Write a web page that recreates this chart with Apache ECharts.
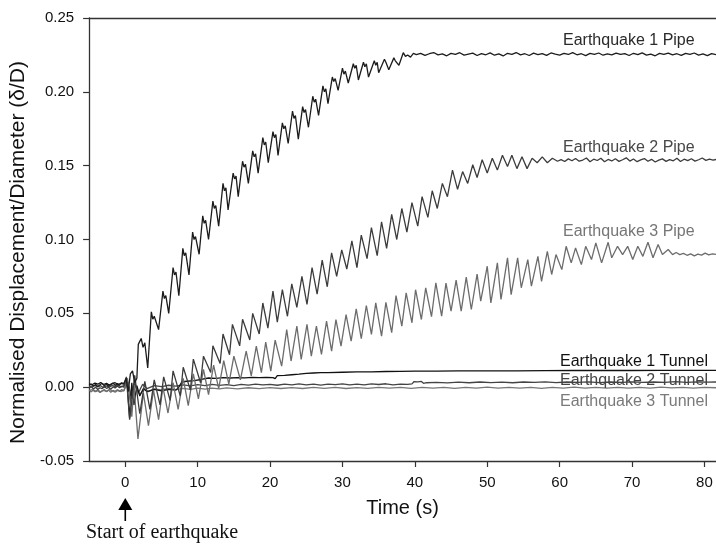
<!DOCTYPE html>
<html>
<head>
<meta charset="utf-8">
<title>Normalised displacement</title>
<script src="https://cdn.jsdelivr.net/npm/echarts@6.0.0/dist/echarts.min.js"></script>
<style>
  html, body { margin: 0; padding: 0; background: #fff; }
  #chart { width: 716px; height: 544px; }
</style>
</head>
<body>
<div id="chart"></div>
<script>
// values: [time (s), normalised displacement δ/D]
const timeTicks = [0, 10, 20, 30, 40, 50, 60, 70, 80];

const eq1Pipe = [
  [-5, 0.0012], [-4.7, 0.0022], [-4.4, 0.0008], [-4.1, 0.0018], [-3.8, 0.0004], [-3.5, 0.0016], [-3.2, 0.0026],
  [-2.9, 0.001], [-2.6, 0.002], [-2.3, 0.0006], [-2.0, 0.0018], [-1.7, 0.0028], [-1.4, 0.0012], [-1.1, 0.0024],
  [-0.8, 0.0014], [-0.5, 0.003], [-0.2, 0.0024], [0.1, 0.006], [0.4, -0.003], [0.7, 0.009], [1.0, 0.011],
  [1.3, 0.003], [1.6, 0.006], [1.8, 0.029], [2.0, 0.031], [2.2, 0.033], [2.45, 0.027], [2.7, 0.03], [3.1, 0.013],
  [3.6, 0.051], [3.8, 0.046], [4.0, 0.048], [4.6, 0.039], [5.2, 0.065], [5.4, 0.06], [5.6, 0.062], [6.0, 0.05],
  [6.6, 0.081], [6.8, 0.076], [7.0, 0.078], [7.4, 0.062], [7.95, 0.094], [8.15, 0.089], [8.35, 0.091], [8.8, 0.076],
  [9.3, 0.105], [9.5, 0.1], [9.7, 0.102], [10.2, 0.09], [10.7, 0.116], [10.9, 0.111], [11.1, 0.113], [11.5, 0.1],
  [12.1, 0.126], [12.3, 0.121], [12.5, 0.123], [12.9, 0.109], [13.5, 0.138], [13.7, 0.133], [13.9, 0.135], [14.2, 0.12],
  [14.9, 0.145], [15.1, 0.141], [15.3, 0.143], [15.6, 0.129], [16.2, 0.153], [16.4, 0.149], [16.6, 0.151], [17.0, 0.138],
  [17.6, 0.16], [17.8, 0.156], [18.0, 0.158], [18.35, 0.145], [19.0, 0.169], [19.2, 0.164], [19.4, 0.166], [19.75, 0.152],
  [20.4, 0.173], [20.6, 0.169], [20.8, 0.171], [21.1, 0.157], [21.7, 0.179], [21.9, 0.175], [22.1, 0.177], [22.5, 0.165],
  [23.1, 0.187], [23.3, 0.182], [23.5, 0.184], [23.9, 0.168], [24.5, 0.19], [24.7, 0.186], [24.9, 0.188], [25.3, 0.176],
  [25.9, 0.197], [26.1, 0.193], [26.3, 0.195], [26.7, 0.184], [27.3, 0.204], [27.5, 0.2], [27.7, 0.202], [28.0, 0.192],
  [28.6, 0.21], [28.8, 0.207], [29.0, 0.209], [29.4, 0.201], [30.0, 0.216], [30.2, 0.212], [30.4, 0.214], [30.8, 0.206],
  [31.5, 0.219], [31.7, 0.216], [31.9, 0.218], [32.2, 0.208], [32.9, 0.22], [33.1, 0.217], [33.3, 0.219], [33.6, 0.21],
  [34.4, 0.221], [34.6, 0.218], [34.8, 0.22], [35.0, 0.213], [35.8, 0.222], [36.0, 0.22], [36.2, 0.221], [36.4, 0.215],
  [37.1, 0.223], [37.3, 0.221], [37.5, 0.222], [37.8, 0.218], [38.4, 0.2265], [38.7, 0.224], [39.0, 0.225], [39.4, 0.2235],
  [39.8, 0.226], [40.2, 0.2252], [40.8, 0.2261], [41.4, 0.2247], [42.0, 0.2258], [42.6, 0.2266], [43.2, 0.225],
  [43.8, 0.2257], [44.4, 0.2244], [45.0, 0.226], [45.6, 0.2253], [46.2, 0.2265], [46.8, 0.2249], [47.4, 0.2256],
  [48.0, 0.2262], [48.6, 0.2246], [49.2, 0.2259], [49.8, 0.2251], [50.4, 0.2264], [51.0, 0.2248], [51.6, 0.2257],
  [52.2, 0.2243], [52.8, 0.2261], [53.4, 0.2254], [54.0, 0.2266], [54.6, 0.225], [55.2, 0.2258], [55.8, 0.2246],
  [56.4, 0.2262], [57.0, 0.2252], [57.6, 0.2259], [58.2, 0.2247], [58.8, 0.2263], [59.4, 0.2255], [60.0, 0.2249],
  [60.6, 0.2261], [61.2, 0.2253], [61.8, 0.2266], [62.4, 0.2251], [63.0, 0.2258], [63.6, 0.2245], [64.2, 0.226],
  [64.8, 0.2254], [65.4, 0.2263], [66.0, 0.2248], [66.6, 0.2257], [67.2, 0.225], [67.8, 0.2262], [68.4, 0.2253],
  [69.0, 0.2259], [69.6, 0.2246], [70.2, 0.2261], [70.8, 0.2252], [71.4, 0.2264], [72.0, 0.2249], [72.6, 0.2256],
  [73.2, 0.2244], [73.8, 0.226], [74.4, 0.2253], [75.0, 0.2262], [75.6, 0.225], [76.2, 0.2258], [76.8, 0.2247],
  [77.4, 0.2261], [78.0, 0.2254], [78.6, 0.2263], [79.2, 0.2249], [79.8, 0.2257], [80.4, 0.2245], [81.0, 0.2259], [81.6, 0.2252]
];

const eq2Pipe = [
  [-5, -0.0008], [-4.7, 0.0004], [-4.4, -0.0012], [-4.1, 0.0], [-3.8, -0.0016], [-3.5, -0.0004], [-3.2, -0.001],
  [-2.9, 0.0006], [-2.6, -0.0008], [-2.3, -0.0002], [-2.0, -0.0014], [-1.7, 0.0002], [-1.4, -0.0006], [-1.1, 0.0008],
  [-0.8, -0.0004], [-0.5, 0.0006], [-0.2, 0.0], [0.15, 0.007], [0.6, -0.022], [1.3, 0.008], [2.0, -0.018], [2.7, 0.004],
  [3.4, -0.015], [4.0, 0.005], [4.8, -0.012], [5.3, 0.007], [6.2, -0.009], [6.6, 0.011], [7.6, -0.006], [8.0, 0.0135],
  [9.0, -0.002], [9.4, 0.019], [10.4, 0.003], [10.8, 0.021], [11.8, 0.01], [12.1, 0.028], [13.1, 0.016], [13.5, 0.036],
  [14.4, 0.022], [14.8, 0.0425], [15.8, 0.028], [16.2, 0.046], [17.2, 0.032], [17.6, 0.05], [18.5, 0.036], [19.0, 0.057],
  [19.7, 0.04], [20.4, 0.065], [21.0, 0.044], [21.7, 0.066], [22.4, 0.048], [23.0, 0.07], [23.7, 0.054], [24.4, 0.075],
  [25.1, 0.056], [25.8, 0.081], [26.5, 0.063], [27.2, 0.086], [27.9, 0.068], [28.5, 0.091], [29.2, 0.075], [29.9, 0.093],
  [30.6, 0.08], [31.3, 0.099], [32.0, 0.081], [32.6, 0.103], [33.4, 0.087], [34.0, 0.108], [34.8, 0.089], [35.4, 0.112],
  [36.1, 0.094], [36.8, 0.117], [37.5, 0.1], [38.2, 0.121], [38.9, 0.105], [39.6, 0.125], [40.4, 0.109], [41.0, 0.129],
  [41.8, 0.115], [42.4, 0.133], [43.1, 0.121], [43.8, 0.138], [44.5, 0.129], [45.2, 0.147], [45.9, 0.134], [46.6, 0.146],
  [47.3, 0.138], [48.0, 0.1506], [48.6, 0.142], [49.3, 0.154], [50.0, 0.145], [50.7, 0.155], [51.4, 0.147], [52.1, 0.157],
  [52.8, 0.1495], [53.4, 0.157], [54.1, 0.148], [54.8, 0.156], [55.5, 0.148], [56.2, 0.155], [56.9, 0.152], [57.6, 0.156],
  [58.3, 0.152], [59.0, 0.155], [59.7, 0.153], [60.2, 0.1541], [60.7, 0.1528], [61.2, 0.1546], [61.7, 0.1533],
  [62.2, 0.1549], [62.7, 0.153], [63.2, 0.1538], [63.7, 0.1552], [64.2, 0.1527], [64.7, 0.1544], [65.2, 0.1535],
  [65.7, 0.155], [66.2, 0.1526], [66.7, 0.1542], [67.2, 0.1532], [67.7, 0.1547], [68.2, 0.1529], [68.7, 0.154],
  [69.2, 0.1553], [69.7, 0.1531], [70.2, 0.1545], [70.7, 0.1527], [71.2, 0.1539], [71.7, 0.1548], [72.2, 0.153],
  [72.7, 0.1543], [73.2, 0.1525], [73.7, 0.1537], [74.2, 0.1546], [74.7, 0.1529], [75.2, 0.1541], [75.7, 0.1533],
  [76.2, 0.155], [76.7, 0.1528], [77.2, 0.1544], [77.7, 0.1534], [78.2, 0.1547], [78.7, 0.1531], [79.2, 0.154],
  [79.7, 0.1552], [80.2, 0.1536], [80.7, 0.1545], [81.2, 0.1538], [81.6, 0.1542]
];

const eq3Pipe = [
  [-5, -0.002], [-4.7, -0.0032], [-4.4, -0.0018], [-4.1, -0.003], [-3.8, -0.0022], [-3.5, -0.0036], [-3.2, -0.0024],
  [-2.9, -0.0016], [-2.6, -0.003], [-2.3, -0.002], [-2.0, -0.0034], [-1.7, -0.0022], [-1.4, -0.0028], [-1.1, -0.0018],
  [-0.8, -0.003], [-0.5, -0.0016], [-0.2, -0.0026], [0.3, 0.006], [0.9, -0.02], [1.2, 0.001], [1.75, -0.035],
  [2.5, -0.004], [3.2, -0.026], [3.9, -0.002], [4.6, -0.022], [5.2, 0.0], [5.9, -0.0175], [6.6, 0.003], [7.3, -0.015],
  [8.0, 0.006], [8.7, -0.0125], [9.4, 0.009], [10.1, -0.008], [10.8, 0.012], [11.5, -0.005], [12.2, 0.015],
  [12.9, -0.001], [13.6, 0.018], [14.3, 0.002], [15.0, 0.021], [15.9, 0.005], [16.7, 0.0244], [17.4, 0.0076],
  [18.1, 0.0278], [18.8, 0.0098], [19.4, 0.0305], [20.1, 0.0109], [20.7, 0.0318], [21.6, 0.0143], [22.3, 0.039],
  [22.9, 0.0177], [23.7, 0.0413], [24.3, 0.0188], [25.1, 0.0425], [25.7, 0.021], [26.4, 0.0413], [27.1, 0.0222],
  [27.8, 0.0447], [28.5, 0.0244], [29.1, 0.0458], [29.8, 0.0278], [30.5, 0.0492], [31.2, 0.0312], [31.9, 0.053],
  [32.6, 0.0328], [33.3, 0.0553], [34.0, 0.0357], [34.6, 0.0571], [35.4, 0.0346], [36.0, 0.0575], [36.8, 0.0369],
  [37.4, 0.062], [38.2, 0.0413], [38.8, 0.0639], [39.6, 0.0436], [40.1, 0.066], [40.9, 0.0458], [41.5, 0.0673],
  [42.3, 0.0477], [42.9, 0.0707], [43.7, 0.0481], [44.3, 0.0705], [45.0, 0.0515], [45.7, 0.0725], [46.4, 0.0515],
  [47.1, 0.0745], [47.8, 0.0526], [48.6, 0.0765], [49.1, 0.0582], [50.0, 0.0819], [50.5, 0.0571], [51.4, 0.0842],
  [51.9, 0.0594], [52.8, 0.0876], [53.3, 0.0627], [54.2, 0.0876], [54.7, 0.0673], [55.6, 0.0864], [56.1, 0.0684],
  [57.0, 0.0886], [57.5, 0.0717], [58.3, 0.092], [58.9, 0.0763], [59.5, 0.0898], [60.3, 0.0796], [60.9, 0.0954],
  [61.6, 0.0842], [62.2, 0.0943], [63.0, 0.083], [63.6, 0.0954], [64.4, 0.0864], [65.0, 0.0977], [65.8, 0.0842],
  [66.7, 0.0981], [67.2, 0.0876], [68.0, 0.0954], [68.7, 0.0898], [69.4, 0.0954], [70.1, 0.0864], [70.8, 0.0954],
  [71.5, 0.0886], [72.2, 0.0981], [72.9, 0.0876], [73.6, 0.0966], [74.2, 0.0898], [75.0, 0.0932], [75.6, 0.0898],
  [76.1, 0.0912], [76.6, 0.0898], [77.1, 0.0906], [77.6, 0.0893], [78.1, 0.0903], [78.6, 0.0889], [79.1, 0.0901],
  [79.6, 0.0894], [80.1, 0.0908], [80.6, 0.0896], [81.1, 0.0902], [81.6, 0.0899]
];

const eq1Tunnel = [
  [-5, 0.0022], [-4.6, 0.0016], [-4.2, 0.0028], [-3.8, 0.002], [-3.4, 0.0032], [-3.0, 0.0018], [-2.6, 0.0026],
  [-2.2, 0.0014], [-1.8, 0.0024], [-1.4, 0.003], [-1.0, 0.0018], [-0.6, 0.0026], [-0.2, 0.002], [0.2, 0.006],
  [0.6, -0.021], [0.9, 0.003], [1.2, -0.012], [1.6, 0.001], [2.0, -0.006], [2.5, -0.001], [3.0, -0.003], [4, -0.0015],
  [5, -0.0025], [6, -0.0015], [7, -0.002], [7.4, 0.0], [7.8, 0.0035], [8.5, 0.004], [9.5, 0.0045], [10.5, 0.0052],
  [11.5, 0.0062], [12.5, 0.006], [13.5, 0.0064], [14.5, 0.0062], [15.5, 0.0065], [16.5, 0.0063], [17.5, 0.0066],
  [18.5, 0.0064], [19.5, 0.0066], [20.4, 0.0064], [20.7, 0.0058], [21.0, 0.0078], [22, 0.008], [23, 0.0084],
  [24, 0.0088], [25, 0.0093], [26, 0.0096], [27, 0.0098], [28, 0.0099], [30, 0.0101], [32, 0.0103], [34, 0.0104],
  [36, 0.0106], [38, 0.0107], [40, 0.0108], [43, 0.0109], [46, 0.011], [50, 0.0111], [54, 0.0111], [58, 0.0112],
  [62, 0.0113], [66, 0.0113], [70, 0.0113], [74, 0.0114], [78, 0.0114], [81.6, 0.0114]
];

const eq2Tunnel = [
  [-5, 0.0006], [-4.6, 0.0], [-4.2, 0.0012], [-3.8, 0.0002], [-3.4, 0.001], [-3.0, -0.0004], [-2.6, 0.0008],
  [-2.2, 0.0], [-1.8, 0.0012], [-1.4, 0.0004], [-1.0, 0.0014], [-0.6, 0.0002], [-0.2, 0.001], [0.3, 0.004],
  [0.8, -0.006], [1.3, 0.003], [1.8, -0.004], [2.4, 0.002], [3.0, -0.001], [4, 0.001], [5, 0.0004], [6, 0.0013],
  [7, 0.0007], [8, 0.0015], [9, 0.0009], [10, 0.0017], [11, 0.0011], [12, 0.0019], [13, 0.0012], [14, 0.0017],
  [15, 0.001], [16, 0.0019], [17, 0.0014], [18, 0.0021], [19, 0.0015], [20, 0.0019], [21, 0.0013], [22, 0.002],
  [23, 0.0015], [24, 0.0022], [25, 0.0016], [26, 0.002], [27, 0.0014], [28, 0.0021], [29, 0.0017], [30, 0.0023],
  [31, 0.0016], [32, 0.0021], [33, 0.0015], [34, 0.0022], [35, 0.0018], [36, 0.0023], [37, 0.0016], [38, 0.0021],
  [39, 0.0019], [39.6, 0.0022], [39.9, 0.0038], [40.4, 0.0036], [40.9, 0.0039], [41.2, 0.0026], [41.6, 0.003],
  [43, 0.0033], [44.5, 0.0029], [46, 0.0034], [47.5, 0.003], [49, 0.0035], [50.5, 0.0031], [52, 0.0034], [53.5, 0.003],
  [55, 0.0035], [56.5, 0.0032], [58, 0.0036], [59.5, 0.0031], [61, 0.0035], [62.5, 0.0032], [64, 0.0036],
  [65.5, 0.0031], [67, 0.0035], [68.5, 0.0033], [70, 0.0036], [71.5, 0.0032], [73, 0.0035], [74.5, 0.0033],
  [76, 0.0037], [77.5, 0.0032], [79, 0.0036], [80.5, 0.0034], [81.6, 0.0035]
];

const eq3Tunnel = [
  [-5, -0.0024], [-4.6, -0.0016], [-4.2, -0.003], [-3.8, -0.002], [-3.4, -0.0032], [-3.0, -0.0022], [-2.6, -0.0028],
  [-2.2, -0.0016], [-1.8, -0.0026], [-1.4, -0.0034], [-1.0, -0.002], [-0.6, -0.003], [-0.2, -0.0022], [0.4, 0.003],
  [0.9, -0.008], [1.4, 0.001], [2.0, -0.005], [2.6, -0.001], [3.2, -0.003], [4, -0.0012], [5, -0.0018], [6, -0.0009],
  [7, -0.0016], [8, -0.0008], [9, -0.0015], [10, -0.0007], [11, -0.0013], [12, -0.0006], [13, -0.0012], [14, -0.0005],
  [15.5, -0.0011], [17, -0.0004], [18.5, -0.001], [20, -0.0003], [21.5, -0.0009], [23, -0.0003], [24.5, -0.0009],
  [26, -0.0002], [27.5, -0.0008], [29, -0.0002], [30.5, -0.0009], [32, -0.0003], [33.5, -0.0008], [35, -0.0001],
  [36.5, -0.0007], [38, -0.0002], [39.5, -0.0008], [41, -0.0001], [42.5, -0.0007], [44, -0.0002], [45.5, -0.0008],
  [47, -0.0001], [48.5, -0.0006], [50, 0.0], [51.5, -0.0006], [53, -0.0001], [54.5, -0.0007], [56, -0.0002],
  [57.5, -0.0008], [59, -0.0001], [60.5, -0.0006], [62, 0.0], [63.5, -0.0007], [65, -0.0002], [66.5, -0.0006],
  [68, -0.0001], [69.5, -0.0007], [71, -0.0002], [72.5, -0.0006], [74, 0.0], [75.5, -0.0005], [77, -0.0001],
  [78.5, -0.0006], [80, -0.0002], [81.6, -0.0004]
];

const seriesNames = [
  'Earthquake 1 Pipe', 'Earthquake 2 Pipe', 'Earthquake 3 Pipe',
  'Earthquake 1 Tunnel', 'Earthquake 2 Tunnel', 'Earthquake 3 Tunnel'
];
const seriesData = [eq1Pipe, eq2Pipe, eq3Pipe, eq1Tunnel, eq2Tunnel, eq3Tunnel];
const lineColors = ['#1c1c1c', '#3c3c3c', '#6c6c6c', '#111111', '#444444', '#777777'];
const labelColors = ['#2a2a2a', '#484848', '#767676', '#111111', '#444444', '#7a7a7a'];
// label anchor: left x, vertical centre (pixels)
const labelPos = [[563, 41], [563, 147.5], [563, 231.5], [560, 361.5], [560, 381], [560, 401.5]];

const sans = '"Liberation Sans", Arial, Helvetica, sans-serif';

const chart = echarts.init(document.getElementById('chart'), null, { renderer: 'canvas' });

const option = {
  animation: false,
  backgroundColor: '#fff',
  grid: { left: 88, top: 18, right: 0, bottom: 83, containLabel: false },
  xAxis: [
    {
      type: 'value',
      min: -5,
      max: 81.6,
      position: 'bottom',
      name: 'Time (s)',
      nameLocation: 'middle',
      nameGap: 37,
      nameTextStyle: { fontFamily: sans, fontSize: 20, color: '#111' },
      axisLine: { onZero: false, lineStyle: { color: '#333', width: 1.3 } },
      axisTick: { show: true, length: 6, customValues: timeTicks, lineStyle: { color: '#333', width: 1.2 } },
      axisLabel: { customValues: timeTicks, margin: 14, fontFamily: sans, fontSize: 15, color: '#111' },
      splitLine: { show: false }
    },
    {
      type: 'value',
      min: -5,
      max: 81.6,
      position: 'top',
      axisLine: { onZero: false, lineStyle: { color: '#333', width: 1.3 } },
      axisTick: { show: false },
      axisLabel: { show: false },
      splitLine: { show: false }
    }
  ],
  yAxis: {
    type: 'value',
    min: -0.05,
    max: 0.25,
    interval: 0.05,
    name: 'Normalised Displacement/Diameter (δ/D)',
    nameLocation: 'middle',
    nameGap: 59,
    nameTextStyle: { fontFamily: sans, fontSize: 21, color: '#111', padding: [0, 26, 0, 0] },
    axisLine: { show: true, onZero: false, lineStyle: { color: '#333', width: 1.3 } },
    axisTick: { show: true, length: 6, lineStyle: { color: '#333', width: 1.2 } },
    axisLabel: {
      margin: 15,
      fontFamily: sans,
      fontSize: 15,
      color: '#111',
      formatter: (v) => v.toFixed(2)
    },
    splitLine: { show: false }
  },
  series: seriesData.map((data, i) => ({
    name: seriesNames[i],
    type: 'line',
    data,
    showSymbol: false,
    symbol: 'none',
    lineStyle: { width: 1.3, color: lineColors[i] },
    z: 10 - i
  }))
};

chart.setOption(option);

// annotations: series names inside the plot and the start-of-earthquake arrow
const x0 = chart.convertToPixel({ xAxisIndex: 0 }, 0);
const yBase = chart.convertToPixel({ yAxisIndex: 0 }, -0.05);

const graphics = seriesNames.map((name, i) => ({
  type: 'text',
  x: labelPos[i][0],
  y: labelPos[i][1],
  z: 100,
  style: {
    text: name,
    fill: labelColors[i],
    font: '16px ' + sans,
    verticalAlign: 'middle'
  }
}));

graphics.push(
  {
    type: 'polygon',
    z: 100,
    shape: { points: [[x0 - 7, yBase + 49], [x0 + 7, yBase + 49], [x0, yBase + 37]] },
    style: { fill: '#000' }
  },
  {
    type: 'line',
    z: 100,
    shape: { x1: x0, y1: yBase + 48, x2: x0, y2: yBase + 60 },
    style: { stroke: '#000', lineWidth: 1.6 }
  },
  {
    type: 'text',
    x: 86,
    y: 533,
    z: 100,
    style: {
      text: 'Start of earthquake',
      fill: '#111',
      font: '20px "Liberation Serif", "Times New Roman", serif',
      verticalAlign: 'middle'
    }
  }
);

chart.setOption({ graphic: graphics });
</script>
</body>
</html>
